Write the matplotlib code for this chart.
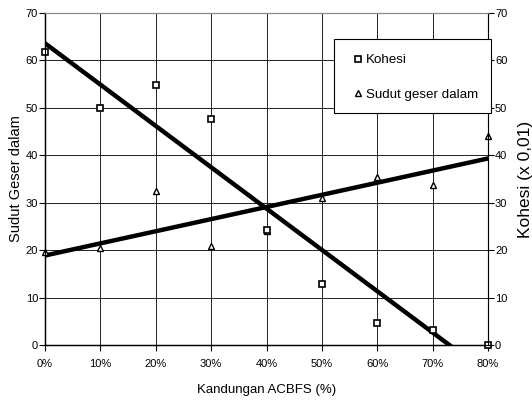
import matplotlib
matplotlib.use("Agg")
import matplotlib.pyplot as plt
import matplotlib.patches as mpatches
import numpy as np

plt.rcParams.update({
    "font.family": ["Liberation Sans", "DejaVu Sans"],
    "xtick.direction": "out",
    "ytick.direction": "out",
})

# ── Data ───────────────────────────────────────────────────────────────────────
kandungan = [0, 10, 20, 30, 40, 50, 60, 70, 80]          # ACBFS content (%)
kohesi    = [61.7, 50.0, 54.8, 47.6, 24.3, 12.8, 4.6, 3.1, 0.0]   # x 0,01
sudut     = [19.7, 20.5, 32.5, 20.9, 24.0, 30.9, 35.5, 33.8, 44.1]
x_ticks   = [0, 10, 20, 30, 40, 50, 60, 70, 80]
y_ticks   = [0, 10, 20, 30, 40, 50, 60, 70]

W, H = 532, 401
fig = plt.figure(figsize=(W / 100, H / 100), dpi=100)
ax = fig.add_axes([45 / W, 1 - 345 / H, 443 / W, 332 / H])

ax.set_xlim(0, 80)
ax.set_ylim(0, 70)
ax.set_xticks(x_ticks)
ax.set_xticklabels([f"{t}%" for t in x_ticks], fontsize=8)
ax.set_yticks(y_ticks)
ax.tick_params(axis="y", labelsize=8, length=4, width=0.8, pad=1)
ax.tick_params(axis="x", length=4, width=0.8, pad=6)

ax.grid(True, color="#222222", linewidth=0.7)
ax.set_axisbelow(True)
for side in ("top", "right"):
    ax.spines[side].set_color("#888888")
for side in ("left", "bottom"):
    ax.spines[side].set_color("black")
    ax.spines[side].set_linewidth(1.0)

# trend lines (least squares from the points)
xs = np.array(kandungan, dtype=float)
for ys in (kohesi, sudut):
    m, c = np.polyfit(xs, np.array(ys), 1)
    xx = np.linspace(0, 80, 200)
    ax.plot(xx, m * xx + c, color="black", linewidth=3.2, zorder=3, clip_on=True)

ax.plot(kandungan, kohesi, linestyle="none", marker="s", markersize=5,
        markerfacecolor="white", markeredgecolor="black", markeredgewidth=1.2,
        label="Kohesi", zorder=5, clip_on=False)
ax.plot(kandungan, sudut, linestyle="none", marker="^", markersize=5,
        markerfacecolor="white", markeredgecolor="black", markeredgewidth=1.0,
        label="Sudut geser dalam", zorder=4, clip_on=False)

ax.set_xlabel("Kandungan ACBFS (%)", fontsize=9.5, labelpad=11)
ax.set_ylabel("Sudut Geser dalam", fontsize=10.5, labelpad=2)

ax2 = ax.twinx()
ax2.set_ylim(0, 70)
ax2.set_yticks(y_ticks)
ax2.tick_params(axis="y", labelsize=8, length=4, width=0.8, pad=1)
ax2.spines["right"].set_color("black")
ax2.spines["top"].set_color("#888888")
ax2.set_ylabel("Kohesi (x 0,01)", fontsize=12.5, labelpad=8)

# legend box, then a frameless legend on top of it
box = mpatches.Rectangle((334 / W, 1 - 113 / H), 157 / W, 74 / H,
                         transform=fig.transFigure, facecolor="white",
                         edgecolor="black", linewidth=0.8, zorder=5)
fig.patches.append(box)
handles, labels = ax.get_legend_handles_labels()
leg = fig.legend(handles, labels, loc="upper left",
                 bbox_to_anchor=(354 / W, 1 - 54 / H), fontsize=9.6,
                 frameon=False, handlelength=0.6, handletextpad=0.3,
                 labelspacing=1.65, borderpad=0, borderaxespad=0,
                 markerscale=0.8)
leg.set_zorder(6)

fig.savefig("out.png", dpi=100)
